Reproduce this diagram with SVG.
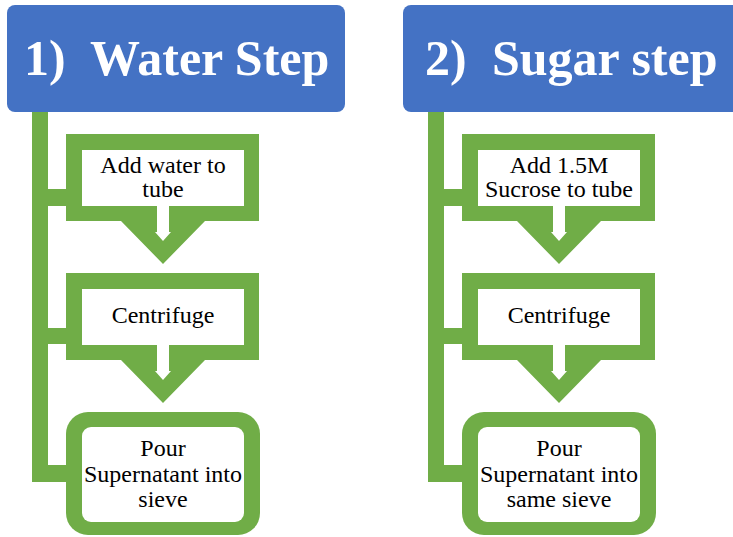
<svg xmlns="http://www.w3.org/2000/svg" width="733" height="537" viewBox="0 0 733 537">
<style>
.hdr{fill:#4472C4}
.g{fill:#70AD47}
.w{fill:#FFFFFF}
.ht{font-family:"Liberation Serif","Times New Roman",serif;font-weight:bold;font-size:50px;fill:#FFFFFF}
.t{font-family:"Liberation Serif","Times New Roman",serif;font-size:24px;fill:#000000;text-anchor:middle}
</style>
<defs>
<path id="callout-outer" d="M66,134 H259 V221 H205 L163,264 L121,221 H66 Z"/>
<path id="callout-inner" d="M82,150 H244 V206 H169 V232 H171 L163,241 L155,232 H157 V206 H82 Z"/>
</defs>
<rect width="733" height="537" fill="#FFFFFF"/>
<g id="connectors">
<rect class="g" x="32" y="112" width="16" height="370"/>
<rect class="g" x="32" y="189" width="34" height="17"/>
<rect class="g" x="32" y="328" width="34" height="16"/>
<rect class="g" x="32" y="465" width="34" height="17"/>
<rect class="g" x="428" y="112" width="16" height="370"/>
<rect class="g" x="428" y="189" width="34" height="17"/>
<rect class="g" x="428" y="328" width="34" height="16"/>
<rect class="g" x="428" y="465" width="34" height="17"/>
</g>
<g id="header1">
<rect class="hdr" x="7" y="5" width="338" height="107" rx="8"/>
<text class="ht" y="75"><tspan x="24">1)</tspan><tspan x="90">Water Step</tspan></text>
</g>
<g id="w-add">
<use href="#callout-outer" class="g"/>
<use href="#callout-inner" class="w"/>
<text class="t"><tspan x="163" y="173">Add water to</tspan><tspan x="163" y="197">tube</tspan></text>
</g>
<g id="w-centrifuge">
<use href="#callout-outer" class="g" transform="translate(0,139)"/>
<use href="#callout-inner" class="w" transform="translate(0,139)"/>
<text class="t" x="163" y="323">Centrifuge</text>
</g>
<g id="w-pour">
<rect class="g" x="66" y="412" width="194" height="123" rx="22"/>
<rect class="w" x="82" y="427" width="162" height="95" rx="9"/>
<text class="t"><tspan x="163" y="456">Pour</tspan><tspan x="163" y="482">Supernatant into</tspan><tspan x="163" y="507">sieve</tspan></text>
</g>
<g id="header2">
<rect class="hdr" x="403" y="5" width="338" height="107" rx="8"/>
<text class="ht" y="75"><tspan x="425">2)</tspan><tspan x="492">Sugar step</tspan></text>
</g>
<g id="s-add">
<use href="#callout-outer" class="g" transform="translate(396,0)"/>
<use href="#callout-inner" class="w" transform="translate(396,0)"/>
<text class="t"><tspan x="559" y="173">Add 1.5M</tspan><tspan x="559" y="197">Sucrose to tube</tspan></text>
</g>
<g id="s-centrifuge">
<use href="#callout-outer" class="g" transform="translate(396,139)"/>
<use href="#callout-inner" class="w" transform="translate(396,139)"/>
<text class="t" x="559" y="323">Centrifuge</text>
</g>
<g id="s-pour">
<rect class="g" x="462" y="412" width="194" height="123" rx="22"/>
<rect class="w" x="478" y="427" width="162" height="95" rx="9"/>
<text class="t"><tspan x="559" y="456">Pour</tspan><tspan x="559" y="482">Supernatant into</tspan><tspan x="559" y="507">same sieve</tspan></text>
</g>
</svg>
